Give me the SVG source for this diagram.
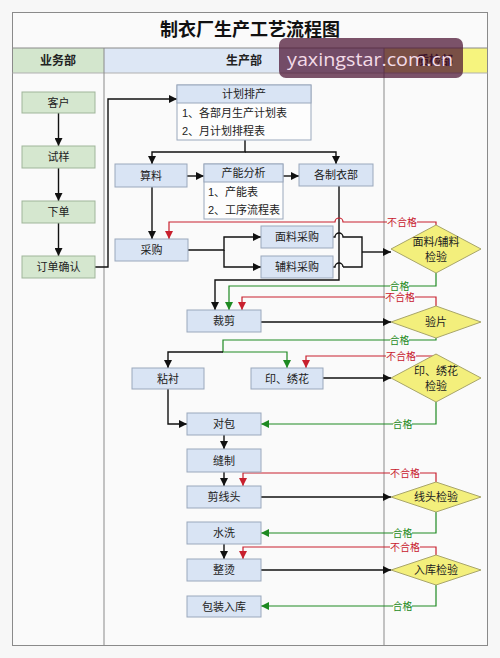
<svg xmlns="http://www.w3.org/2000/svg" width="500" height="658" viewBox="0 0 500 658">
<style>
text{font-family:"Liberation Sans","Noto Sans CJK SC",sans-serif;fill:#222;}
.t{font-size:11px;text-anchor:middle;dominant-baseline:central;}
.tl{font-size:11px;dominant-baseline:central;}
.h{font-size:12px;font-weight:bold;text-anchor:middle;dominant-baseline:central;}
.b{fill:#d9e4f4;stroke:#9aa8bc;stroke-width:1;}
.w{fill:#fdfdfd;stroke:#9aa8bc;stroke-width:1;}
.g{fill:#d5e7cf;stroke:#9fb59a;stroke-width:1;}
.d{fill:#f3ef7c;stroke:#a8a56a;stroke-width:1;}
.k{fill:none;stroke:#111;stroke-width:1.4;}
.kr{fill:none;stroke:#c8202e;stroke-width:1.2;}
.kg{fill:none;stroke:#1e8a22;stroke-width:1.2;}
.lr{font-size:10px;text-anchor:middle;dominant-baseline:central;fill:#c8202e;}
.lg{font-size:10px;text-anchor:middle;dominant-baseline:central;fill:#1e8a22;}
.lb{fill:#fafafa;}
</style>
<defs>
<marker id="ak" viewBox="0 0 8 8" refX="8" refY="4" markerWidth="8" markerHeight="8" markerUnits="userSpaceOnUse" orient="auto"><path d="M0,0 L8,4 L0,8 z" fill="#111"/></marker>
<marker id="ar" viewBox="0 0 8 8" refX="8" refY="4" markerWidth="8" markerHeight="8" markerUnits="userSpaceOnUse" orient="auto"><path d="M0,0 L8,4 L0,8 z" fill="#c8202e"/></marker>
<marker id="ag" viewBox="0 0 8 8" refX="8" refY="4" markerWidth="8" markerHeight="8" markerUnits="userSpaceOnUse" orient="auto"><path d="M0,0 L8,4 L0,8 z" fill="#1e8a22"/></marker>
</defs>
<rect x="0" y="0" width="500" height="658" fill="#f7f7f7"/>
<g id="frame">
<rect x="12.5" y="12.5" width="475" height="633" fill="#fafafa" stroke="#8a8a8a"/>
<text x="250" y="30" style="font-size:18px;font-weight:bold;text-anchor:middle;dominant-baseline:central;fill:#111;">制衣厂生产工艺流程图</text>
<rect x="13" y="48" width="91" height="25" fill="#d3e6cd"/>
<rect x="104" y="48" width="280" height="25" fill="#dde7f5"/>
<rect x="384" y="48" width="103" height="25" fill="#f6f47e"/>
<line x1="12.5" y1="48" x2="487.5" y2="48" stroke="#8a8a8a"/>
<line x1="12.5" y1="73" x2="487.5" y2="73" stroke="#b0b0b0"/>
<line x1="104" y1="48" x2="104" y2="645" stroke="#8a8a8a"/>
<line x1="384" y1="48" x2="384" y2="645" stroke="#8a8a8a"/>
<text class="h" x="58" y="61">业务部</text>
<text class="h" x="244" y="61">生产部</text>
<text class="h" x="435" y="61">质检部</text>
</g>
<g id="connectors">
<path class="k" d="M58.5 113 V146" marker-end="url(#ak)"/>
<path class="k" d="M58.5 168 V201" marker-end="url(#ak)"/>
<path class="k" d="M58.5 223 V256" marker-end="url(#ak)"/>
<path class="k" d="M95 267 H108 V99 H177" marker-end="url(#ak)"/>
<path class="k" d="M245 140 V152 H152 V164" marker-end="url(#ak)"/>
<path class="k" d="M245 152 H336 V164" marker-end="url(#ak)"/>
<path class="k" d="M187 176 H204" marker-end="url(#ak)"/>
<path class="k" d="M283 176 H299" marker-end="url(#ak)"/>
<path class="k" d="M152 187 V239" marker-end="url(#ak)"/>
<path class="k" d="M188 250 H224 V237 H261" marker-end="url(#ak)"/>
<path class="k" d="M224 250 V267 H261" marker-end="url(#ak)"/>
<path class="k" d="M333 237 H335 a4 4 0 0 1 8 0 H362 V267 H343"/>
<path class="k" d="M333 267 H335 a4 4 0 0 1 8 0"/>
<path class="k" d="M362 252 H391" marker-end="url(#ak)"/>
<path class="k" d="M339 186 V280 H215 V310" marker-end="url(#ak)"/>
<path class="kr" d="M436 225 V222 H343 a4 4 0 0 0 -8 0 H169 V239" marker-end="url(#ar)"/>
<path class="kg" d="M436 273 V286 H229 V310" marker-end="url(#ag)"/>
<path class="kr" d="M436 306 V297 H242 V310" marker-end="url(#ar)"/>
<path class="k" d="M261 322 H391" marker-end="url(#ak)"/>
<path class="kg" d="M436 338 V340 H223 V352 H287 V368" marker-end="url(#ag)"/>
<path class="k" d="M223 352 H168 V368" marker-end="url(#ak)"/>
<path class="kr" d="M436 354 V356 H306 V368" marker-end="url(#ar)"/>
<path class="k" d="M323 378 H391" marker-end="url(#ak)"/>
<path class="kg" d="M436 402 V424 H261" marker-end="url(#ag)"/>
<path class="k" d="M168 389 V424 H187" marker-end="url(#ak)"/>
<path class="k" d="M224 435 V449" marker-end="url(#ak)"/>
<path class="k" d="M224 472 V486" marker-end="url(#ak)"/>
<path class="kr" d="M436 482 V473 H243 V486" marker-end="url(#ar)"/>
<path class="k" d="M261 497 H391" marker-end="url(#ak)"/>
<path class="kg" d="M436 512 V533 H261" marker-end="url(#ag)"/>
<path class="k" d="M224 544 V559" marker-end="url(#ak)"/>
<path class="kr" d="M436 555 V547 H243 V559" marker-end="url(#ar)"/>
<path class="k" d="M261 570 H391" marker-end="url(#ak)"/>
<path class="kg" d="M436 585 V606 H261" marker-end="url(#ag)"/>
<rect class="lb" x="387" y="216" width="30" height="12"/><text class="lr" x="402" y="222">不合格</text>
<rect class="lb" x="390" y="280" width="19" height="12"/><text class="lg" x="399.5" y="286">合格</text>
<rect class="lb" x="385" y="291" width="30" height="12"/><text class="lr" x="400" y="297">不合格</text>
<rect class="lb" x="390" y="334" width="19" height="12"/><text class="lg" x="399.5" y="340">合格</text>
<rect class="lb" x="386" y="350" width="30" height="12"/><text class="lr" x="401" y="356">不合格</text>
<rect class="lb" x="393" y="418" width="19" height="12"/><text class="lg" x="402.5" y="424">合格</text>
<rect class="lb" x="390" y="467" width="30" height="12"/><text class="lr" x="405" y="473">不合格</text>
<rect class="lb" x="393" y="527" width="19" height="12"/><text class="lg" x="402.5" y="533">合格</text>
<rect class="lb" x="390" y="541" width="30" height="12"/><text class="lr" x="405" y="547">不合格</text>
<rect class="lb" x="393" y="600" width="19" height="12"/><text class="lg" x="402.5" y="606">合格</text>
</g>
<g id="n-kehu"><rect class="g" x="22" y="92" width="73" height="21"/><text class="t" x="58.5" y="102.5">客户</text></g>
<g id="n-shiyang"><rect class="g" x="22" y="146" width="73" height="22"/><text class="t" x="58.5" y="157">试样</text></g>
<g id="n-xiadan"><rect class="g" x="22" y="201" width="73" height="22"/><text class="t" x="58.5" y="212">下单</text></g>
<g id="n-queren"><rect class="g" x="22" y="256" width="73" height="22"/><text class="t" x="58.5" y="267">订单确认</text></g>
<g id="n-jihua"><rect class="w" x="177" y="85" width="134" height="55"/><rect class="b" x="177" y="85" width="134" height="18"/><text class="t" x="244" y="94">计划排产</text><text class="tl" x="182" y="113">1、各部月生产计划表</text><text class="tl" x="182" y="131">2、月计划排程表</text></g>
<g id="n-suanliao"><rect class="b" x="115" y="164" width="72" height="23"/><text class="t" x="151" y="175.5">算料</text></g>
<g id="n-channeng"><rect class="w" x="204" y="164" width="79" height="55"/><rect class="b" x="204" y="164" width="79" height="18"/><text class="t" x="243.5" y="173">产能分析</text><text class="tl" x="208" y="192">1、产能表</text><text class="tl" x="208" y="210">2、工序流程表</text></g>
<g id="n-zhiyibu"><rect class="b" x="299" y="164" width="74" height="22"/><text class="t" x="336" y="175">各制衣部</text></g>
<g id="n-caigou"><rect class="b" x="115" y="239" width="73" height="22"/><text class="t" x="151.5" y="250">采购</text></g>
<g id="n-mianliao"><rect class="b" x="261" y="226" width="72" height="22"/><text class="t" x="297" y="237">面料采购</text></g>
<g id="n-fuliao"><rect class="b" x="261" y="256" width="72" height="22"/><text class="t" x="297" y="267">辅料采购</text></g>
<g id="n-jianyan1"><polygon class="d" points="391,249 436,225 481,249 436,273"/><text class="t" x="436" y="242">面料/辅料</text><text class="t" x="436" y="257">检验</text></g>
<g id="n-caijian"><rect class="b" x="187" y="310" width="74" height="22"/><text class="t" x="224" y="321">裁剪</text></g>
<g id="n-yanpian"><polygon class="d" points="391,322 436,306 481,322 436,338"/><text class="t" x="436" y="322">验片</text></g>
<g id="n-zhanchen"><rect class="b" x="132" y="368" width="72" height="21"/><text class="t" x="168" y="378.5">粘衬</text></g>
<g id="n-xiuhua"><rect class="b" x="251" y="368" width="72" height="21"/><text class="t" x="287" y="378.5">印、绣花</text></g>
<g id="n-jianyan2"><polygon class="d" points="391,378 436,354 481,378 436,402"/><text class="t" x="436" y="371">印、绣花</text><text class="t" x="436" y="386">检验</text></g>
<g id="n-duibao"><rect class="b" x="187" y="413" width="74" height="22"/><text class="t" x="224" y="424">对包</text></g>
<g id="n-fengzhi"><rect class="b" x="187" y="449" width="74" height="23"/><text class="t" x="224" y="460.5">缝制</text></g>
<g id="n-jianxiantou"><rect class="b" x="187" y="486" width="74" height="22"/><text class="t" x="224" y="497">剪线头</text></g>
<g id="n-xiantou"><polygon class="d" points="391,497 436,482 481,497 436,512"/><text class="t" x="436" y="497">线头检验</text></g>
<g id="n-shuixi"><rect class="b" x="187" y="522" width="74" height="22"/><text class="t" x="224" y="533">水洗</text></g>
<g id="n-zhengtang"><rect class="b" x="187" y="559" width="74" height="22"/><text class="t" x="224" y="570">整烫</text></g>
<g id="n-ruku"><polygon class="d" points="391,570 436,555 481,570 436,585"/><text class="t" x="436" y="570">入库检验</text></g>
<g id="n-baozhuang"><rect class="b" x="187" y="596" width="74" height="21"/><text class="t" x="224" y="606.5">包装入库</text></g>
<g id="watermark"><rect x="279" y="38" width="184" height="40" rx="7" fill="#4a1030" fill-opacity="0.72"/><text x="287" y="59" textLength="166" lengthAdjust="spacingAndGlyphs" style="font-size:19px;dominant-baseline:central;fill:#f3dbe7;font-family:'Open Sans','Liberation Sans',sans-serif;">yaxingstar.com.cn</text></g>
</svg>
